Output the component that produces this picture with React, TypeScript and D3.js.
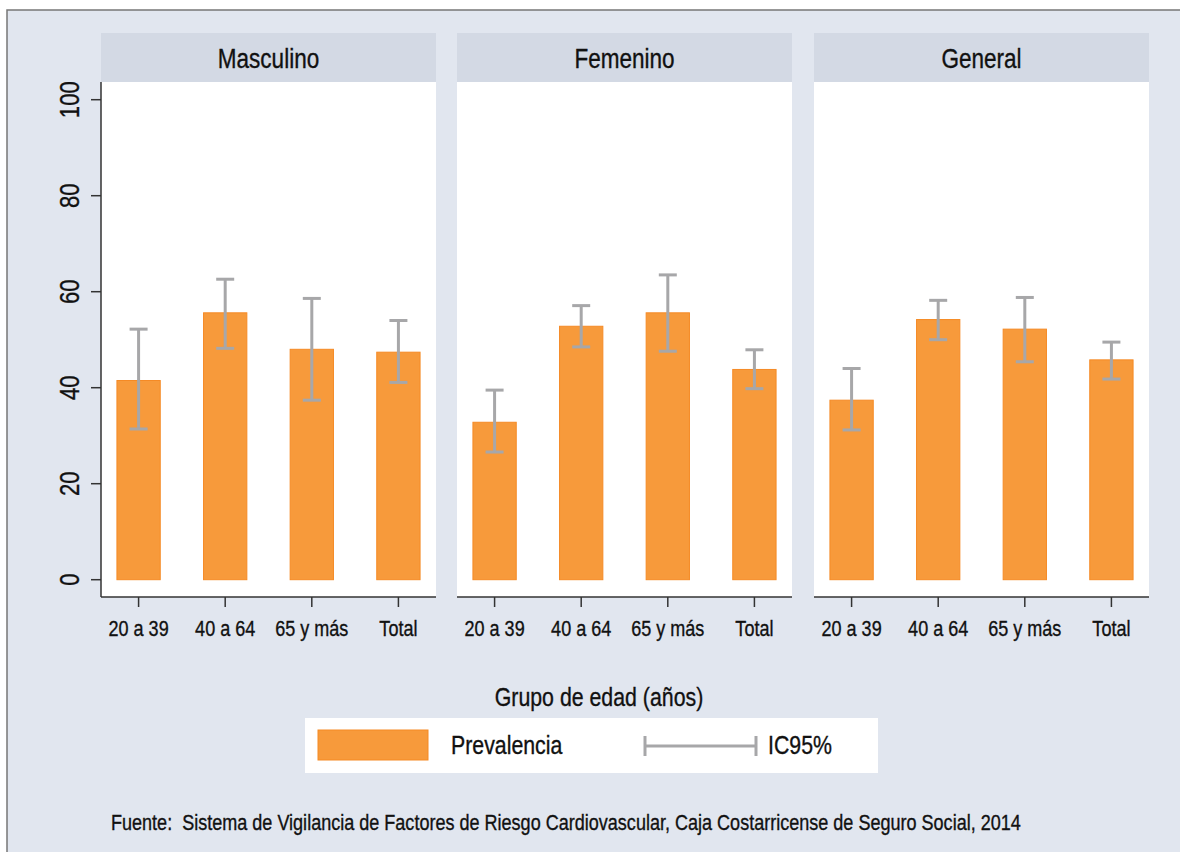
import React from "react";
import * as d3 from "d3";

// Prevalence (%) by age group, with 95% confidence intervals
const categories = ["20 a 39", "40 a 64", "65 y más", "Total"];
const panels = ["Masculino", "Femenino", "General"];

const prevMasculino = [41.5, 55.6, 48.0, 47.4];
const lowMasculino = [31.4, 48.2, 37.4, 41.1];
const highMasculino = [52.2, 62.6, 58.6, 54.0];

const prevFemenino = [32.8, 52.8, 55.6, 43.8];
const lowFemenino = [26.6, 48.5, 47.6, 39.8];
const highFemenino = [39.5, 57.1, 63.5, 47.9];

const prevGeneral = [37.4, 54.2, 52.2, 45.8];
const lowGeneral = [31.2, 50.0, 45.4, 41.8];
const highGeneral = [44.0, 58.2, 58.8, 49.5];

const yTicks = [0, 20, 40, 60, 80, 100];

const xTitle = "Grupo de edad (años)";
const legendBar = "Prevalencia";
const legendCI = "IC95%";
const source =
  "Fuente:  Sistema de Vigilancia de Factores de Riesgo Cardiovascular, Caja Costarricense de Seguro Social, 2014";

const series = [
  { prev: prevMasculino, low: lowMasculino, high: highMasculino },
  { prev: prevFemenino, low: lowFemenino, high: highFemenino },
  { prev: prevGeneral, low: lowGeneral, high: highGeneral },
];

const W = 1180;
const H = 852;
const FONT = "'Liberation Sans', Arial, Helvetica, sans-serif";
// horizontal squeeze giving a condensed face
const NARROW = 0.82;

const BG = "#e1e6ef";
const STRIP = "#d3d9e4";
const ORANGE = "#f79a3b";
const ORANGE_EDGE = "#f58a25";
const CI_GRAY = "#a7a7a9";
const AXIS = "#333333";
const INK = "#111111";

const panelLefts = [101, 457, 814];
const panelWidth = 335;
const stripTop = 33;
const plotTop = 82;
const plotBottom = 597;

// value axis: 0 at y≈580, 100 at y≈100
const y = d3.scaleLinear().domain([0, 100]).range([579.7, 99.7]);

type NTextProps = {
  x: number;
  y: number;
  size: number;
  anchor?: "start" | "middle" | "end";
  rotate?: number;
  children: React.ReactNode;
};

function NText({ x, y, size, anchor = "start", rotate = 0, children }: NTextProps) {
  return (
    <text
      transform={`translate(${x},${y}) rotate(${rotate}) scale(${NARROW},1)`}
      textAnchor={anchor}
      fontSize={size}
      fill={INK}
      stroke={INK}
      strokeWidth={0.35}
      style={{ whiteSpace: "pre" }}
    >
      {children}
    </text>
  );
}

export default function App() {
  return (
    <svg
      width={W}
      height={H}
      style={{ position: "absolute", left: 0, top: 0, display: "block" }}
      fontFamily={FONT}
    >
      <rect x={0} y={0} width={W} height={H} fill="#ffffff" />
      <rect x={7} y={10} width={W + 40} height={H + 40} fill={BG} stroke="#777777" strokeWidth={1.5} />

      {panels.map((name, pi) => {
        const left = panelLefts[pi];
        const x = d3
          .scalePoint<string>()
          .domain(categories)
          .range([left, left + panelWidth])
          .padding(0.434);
        const step = x.step();
        const barW = step * 0.5;
        const capW = 18;
        const s = series[pi];
        return (
          <g key={name}>
            <rect x={left} y={stripTop} width={panelWidth} height={plotTop - stripTop} fill={STRIP} />
            <NText x={left + panelWidth / 2} y={68} size={27.5} anchor="middle">
              {name}
            </NText>
            <rect x={left} y={plotTop} width={panelWidth} height={plotBottom - plotTop} fill="#ffffff" />

            {categories.map((c, i) => {
              const cx = x(c) as number;
              return (
                <g key={c}>
                  <rect
                    x={cx - barW / 2}
                    y={y(s.prev[i])}
                    width={barW}
                    height={y(0) - y(s.prev[i])}
                    fill={ORANGE}
                    stroke={ORANGE_EDGE}
                    strokeWidth={1}
                  />
                  <line x1={cx} x2={cx} y1={y(s.high[i])} y2={y(s.low[i])} stroke={CI_GRAY} strokeWidth={3} />
                  <line x1={cx - capW / 2} x2={cx + capW / 2} y1={y(s.high[i])} y2={y(s.high[i])} stroke={CI_GRAY} strokeWidth={3} />
                  <line x1={cx - capW / 2} x2={cx + capW / 2} y1={y(s.low[i])} y2={y(s.low[i])} stroke={CI_GRAY} strokeWidth={3} />
                </g>
              );
            })}

            {/* category axis */}
            <line x1={left} x2={left + panelWidth} y1={plotBottom} y2={plotBottom} stroke={AXIS} strokeWidth={1.5} />
            {categories.map((c) => {
              const cx = x(c) as number;
              return (
                <g key={"t" + c}>
                  <line x1={cx} x2={cx} y1={plotBottom} y2={plotBottom + 10} stroke={AXIS} strokeWidth={1.5} />
                  <NText x={cx} y={636} size={22} anchor="middle">
                    {c}
                  </NText>
                </g>
              );
            })}
          </g>
        );
      })}

      {/* value axis on the first panel */}
      <line x1={101} x2={101} y1={plotTop} y2={plotBottom} stroke={AXIS} strokeWidth={1.5} />
      {yTicks.map((t) => (
        <g key={t}>
          <line x1={91} x2={101} y1={y(t)} y2={y(t)} stroke={AXIS} strokeWidth={1.5} />
          <NText x={79} y={y(t)} size={27} anchor="middle" rotate={-90}>
            {t}
          </NText>
        </g>
      ))}

      <NText x={599} y={706} size={26} anchor="middle">
        {xTitle}
      </NText>

      {/* legend */}
      <rect x={305} y={718} width={573} height={55} fill="#ffffff" />
      <rect x={318} y={730} width={110} height={30} fill={ORANGE} stroke={ORANGE_EDGE} strokeWidth={1} />
      <NText x={451} y={754} size={26}>
        {legendBar}
      </NText>
      <line x1={645} x2={756} y1={746} y2={746} stroke={CI_GRAY} strokeWidth={3} />
      <line x1={645} x2={645} y1={736} y2={756} stroke={CI_GRAY} strokeWidth={3} />
      <line x1={756} x2={756} y1={736} y2={756} stroke={CI_GRAY} strokeWidth={3} />
      <NText x={768} y={754} size={26}>
        {legendCI}
      </NText>

      <NText x={111} y={830} size={22}>
        {source}
      </NText>
    </svg>
  );
}
